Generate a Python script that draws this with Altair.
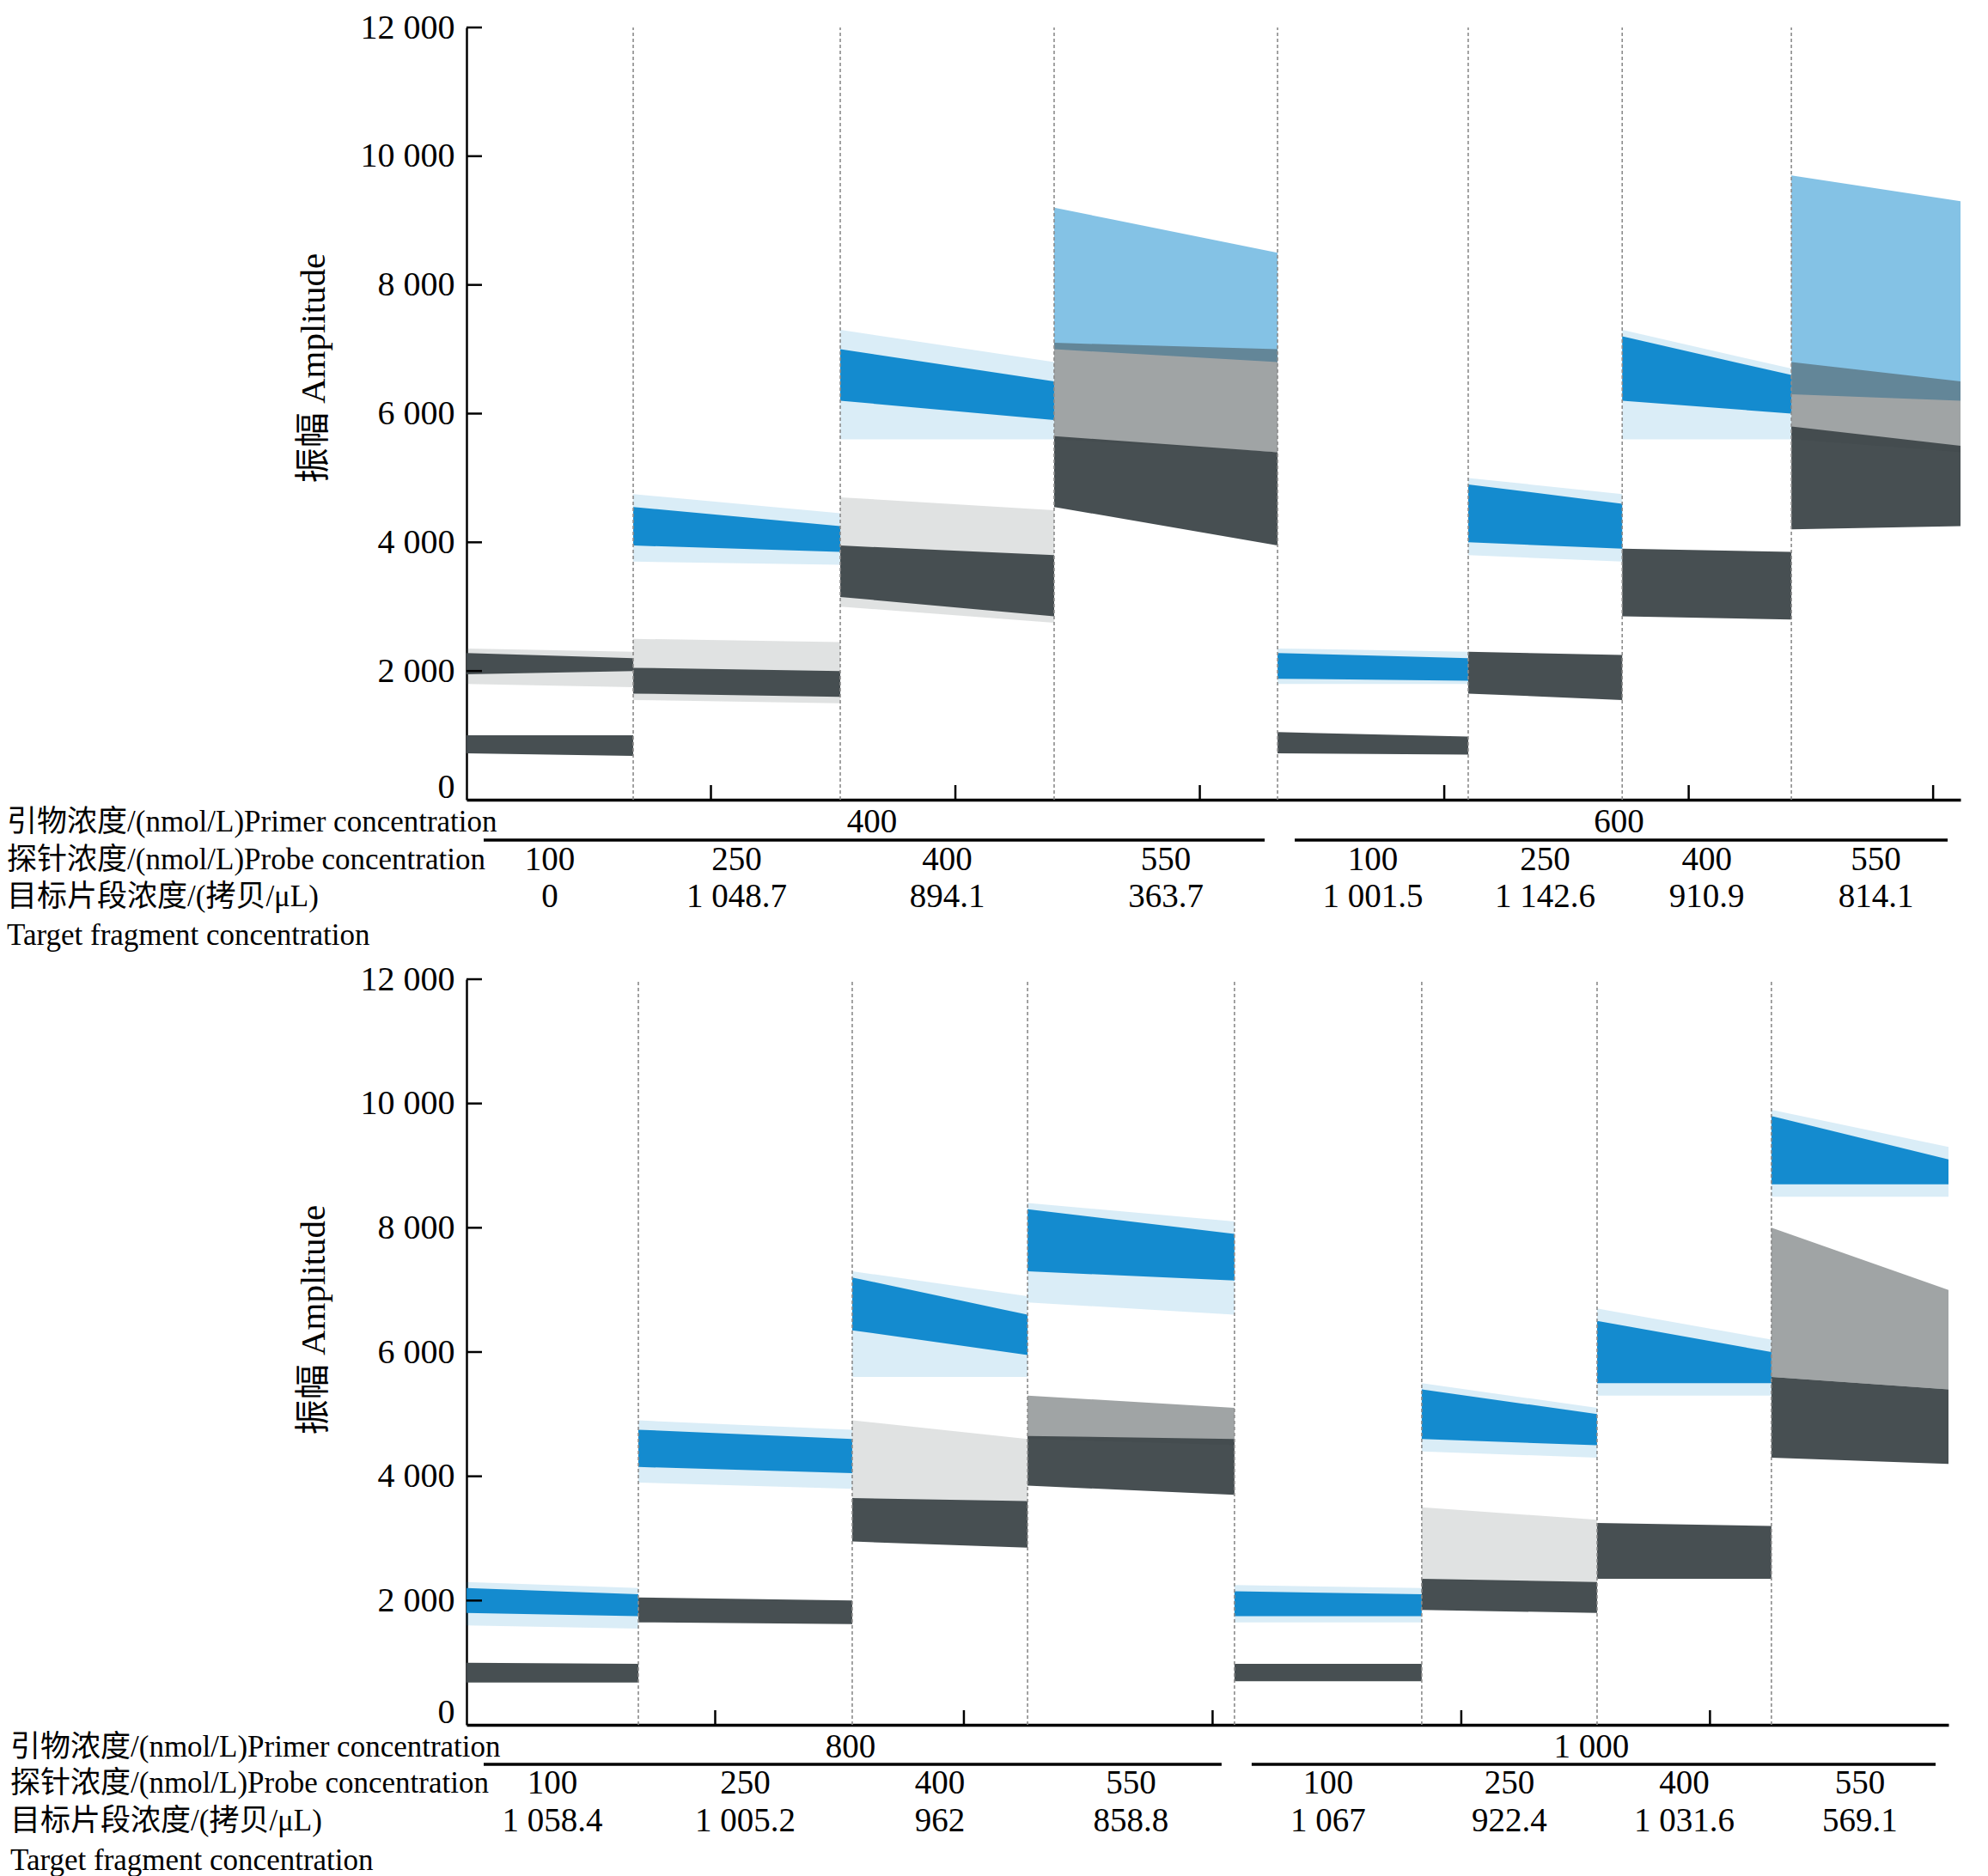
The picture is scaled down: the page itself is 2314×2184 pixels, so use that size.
import altair as alt
import pandas as pd

# ---------------- data ----------------
AMP_TICKS = [0, 2000, 4000, 6000, 8000, 10000, 12000]
AXIS_TICKS = [2000, 4000, 6000, 8000, 10000, 12000]
EVENT_TICKS = [10000, 20000, 30000, 40000, 50000, 60000]

ROW_PRIMER = "引物浓度/(nmol/L)Primer concentration"
ROW_PROBE = "探针浓度/(nmol/L)Probe concentration"
ROW_TARGET = "目标片段浓度/(拷贝/μL)"
ROW_TARGET_EN = "Target fragment concentration"
Y_TITLE = "振幅 Amplitude"

PROBE = ["100", "250", "400", "550", "100", "250", "400", "550"]

TOP_PRIMER = ["400", "600"]
TOP_TARGET = ["0", "1 048.7", "894.1", "363.7", "1 001.5", "1 142.6", "910.9", "814.1"]
TOP_WELL_EDGES = [0, 6820, 15290, 24040, 33180, 40980, 47280, 54200, 61120]

BOTTOM_PRIMER = ["800", "1 000"]
BOTTOM_TARGET = ["1 058.4", "1 005.2", "962", "858.8", "1 067", "922.4", "1 031.6", "569.1"]
BOTTOM_WELL_EDGES = [0, 6910, 15510, 22560, 30880, 38410, 45460, 52470, 59590]

# droplet clusters: (well, kind, low@start, high@start, low@end, high@end)
TOP_CLUSTERS = [
    (1, "grey_halo", 1800, 2350, 1750, 2300),
    (1, "grey", 1950, 2280, 2000, 2200),
    (1, "grey", 720, 1000, 680, 1000),
    (2, "blue_halo", 3700, 4750, 3650, 4450),
    (2, "blue", 3950, 4550, 3850, 4250),
    (2, "grey_halo", 1550, 2500, 1500, 2450),
    (2, "grey", 1650, 2050, 1600, 2000),
    (3, "blue_halo", 5600, 7300, 5600, 6800),
    (3, "blue", 6200, 7000, 5900, 6500),
    (3, "grey_halo", 3000, 4700, 2750, 4500),
    (3, "grey", 3150, 3950, 2850, 3800),
    (4, "blue_sparse", 7000, 9200, 6800, 8500),
    (4, "grey_sparse", 5600, 7100, 5400, 7000),
    (4, "grey", 4550, 5650, 3950, 5400),
    (5, "blue_halo", 1800, 2350, 1800, 2300),
    (5, "blue", 1880, 2280, 1850, 2200),
    (5, "grey", 720, 1050, 700, 980),
    (6, "blue_halo", 3800, 5000, 3700, 4750),
    (6, "blue", 4000, 4900, 3900, 4600),
    (6, "grey", 1650, 2300, 1550, 2250),
    (7, "blue_halo", 5600, 7300, 5600, 6700),
    (7, "blue", 6200, 7200, 6000, 6600),
    (7, "grey", 2850, 3900, 2800, 3850),
    (8, "blue_sparse", 6300, 9700, 6200, 9300),
    (8, "grey_sparse", 5600, 6800, 5400, 6500),
    (8, "grey", 4200, 5800, 4250, 5500),
]

BOTTOM_CLUSTERS = [
    (1, "blue_halo", 1600, 2300, 1550, 2200),
    (1, "blue", 1800, 2200, 1750, 2100),
    (1, "grey", 680, 1000, 680, 980),
    (2, "blue_halo", 3900, 4900, 3800, 4750),
    (2, "blue", 4150, 4750, 4050, 4600),
    (2, "grey", 1650, 2050, 1620, 2000),
    (3, "blue_halo", 5600, 7300, 5600, 6900),
    (3, "blue", 6350, 7200, 5950, 6600),
    (3, "grey_halo", 3600, 4900, 3600, 4600),
    (3, "grey", 2950, 3650, 2850, 3600),
    (4, "blue_halo", 6800, 8400, 6600, 8100),
    (4, "blue", 7300, 8300, 7150, 7900),
    (4, "grey_sparse", 4600, 5300, 4500, 5100),
    (4, "grey", 3850, 4650, 3700, 4600),
    (5, "blue_halo", 1650, 2250, 1650, 2200),
    (5, "blue", 1750, 2150, 1750, 2100),
    (5, "grey", 700, 980, 700, 980),
    (6, "blue_halo", 4400, 5500, 4300, 5100),
    (6, "blue", 4600, 5400, 4500, 5000),
    (6, "grey_halo", 2300, 3500, 2300, 3300),
    (6, "grey", 1850, 2350, 1800, 2300),
    (7, "blue_halo", 5300, 6700, 5300, 6200),
    (7, "blue", 5500, 6500, 5500, 6000),
    (7, "grey", 2350, 3250, 2350, 3200),
    (8, "blue_halo", 8500, 9900, 8500, 9300),
    (8, "blue", 8700, 9800, 8700, 9100),
    (8, "grey_sparse", 5600, 8000, 5400, 7000),
    (8, "grey", 4300, 5600, 4200, 5400),
]

# ---------------- styling ----------------
FONT = "Liberation Serif, Noto Sans CJK SC"
BLUE = "#0a86cc"
GREY = "#41494c"
KIND_STYLE = [
    ("blue_halo", BLUE, 0.15),
    ("grey_halo", GREY, 0.16),
    ("blue_sparse", BLUE, 0.5),
    ("grey_sparse", GREY, 0.5),
    ("blue", BLUE, 0.95),
    ("grey", GREY, 0.97),
]


def panel(edges, clusters, primer, target, width, height, rows):
    xs = alt.Scale(domain=[0, edges[-1]], nice=False, zero=False)
    ys = alt.Scale(domain=[0, 12000], nice=False, zero=True)
    ax_x = alt.Axis(labels=False, ticks=False, grid=False, title=None,
                    domainColor="black", domainWidth=3.5)
    ax_y = alt.Axis(values=AMP_TICKS, grid=False, ticks=False,
                    labelExpr="replace(format(datum.value, ','), ',', ' ')",
                    labelFont=FONT, labelFontSize=40, labelColor="black",
                    labelPadding=14, domainColor="black", domainWidth=2.5,
                    labelBaseline=alt.expr("datum.value == 0 ? 'bottom' : 'middle'"),
                    labelOffset=alt.expr("datum.value == 0 ? 5 : 0"),
                    titleFont=FONT, titleFontSize=41, titleColor="black",
                    titleFontWeight="normal", titleAngle=270,
                    titleX=-178, titleY=396, titleAlign="center",
                    titleBaseline="middle")

    def X(field):
        return alt.X(field, type="quantitative", scale=xs, axis=ax_x, title=None)

    def Y(field):
        return alt.Y(field, type="quantitative", scale=ys, axis=ax_y, title=Y_TITLE)

    # area table
    recs = []
    for i, (w, kind, lo0, hi0, lo1, hi1) in enumerate(clusters):
        recs.append({"id": i, "kind": kind, "x": edges[w - 1], "lo": lo0, "hi": hi0})
        recs.append({"id": i, "kind": kind, "x": edges[w], "lo": lo1, "hi": hi1})
    df = pd.DataFrame(recs)

    layers = []
    for kind, col, op in KIND_STYLE:
        sub = df[df["kind"] == kind]
        if len(sub) == 0:
            continue
        layers.append(
            alt.Chart(sub).mark_area(color=col, opacity=op, interpolate="linear")
            .encode(x=X("x"), y=Y("lo"), y2="hi", detail="id:N")
        )

    # dashed well separators
    sep = pd.DataFrame({"x": edges[1:-1]})
    layers.append(
        alt.Chart(sep).mark_rule(color="#8c8c8c", strokeWidth=1.6, strokeDash=[4, 3])
        .encode(x=X("x"), y=alt.datum(0), y2=alt.datum(12000))
    )

    # inward ticks
    yt = pd.DataFrame({"amp": AXIS_TICKS})
    layers.append(
        alt.Chart(yt).mark_rule(color="black", strokeWidth=2.5, x2Offset=18)
        .encode(x=alt.datum(0), x2=alt.datum(0), y=Y("amp"))
    )
    xt = pd.DataFrame({"ev": [t for t in EVENT_TICKS if t < edges[-1]]})
    layers.append(
        alt.Chart(xt).mark_rule(color="black", strokeWidth=2.5, y2Offset=-17)
        .encode(x=X("ev"), y=alt.datum(0), y2=alt.datum(0))
    )

    # category labels under the axis
    centers = [(edges[i] + edges[i + 1]) / 2 for i in range(8)]
    prim = pd.DataFrame({"cx": [(edges[0] + edges[4]) / 2, (edges[4] + edges[8]) / 2],
                         "label": primer,
                         "x0": [edges[0], edges[4]], "x1": [edges[4], edges[8]]})
    layers.append(
        alt.Chart(prim).mark_text(font=FONT, fontSize=39, color="black", baseline="middle")
        .encode(x=X("cx"), y=alt.value(rows["primer"]), text="label:N")
    )
    layers.append(
        alt.Chart(prim).mark_rule(color="black", strokeWidth=3.5, xOffset=20, x2Offset=-15)
        .encode(x=X("x0"), x2="x1", y=alt.value(rows["line"]))
    )
    probe = pd.DataFrame({"cx": centers, "probe": PROBE, "target": target})
    layers.append(
        alt.Chart(probe).mark_text(font=FONT, fontSize=39, color="black", baseline="middle")
        .encode(x=X("cx"), y=alt.value(rows["probe"]), text="probe:N")
    )
    layers.append(
        alt.Chart(probe).mark_text(font=FONT, fontSize=39, color="black", baseline="middle")
        .encode(x=X("cx"), y=alt.value(rows["target"]), text="target:N")
    )

    # row headers at the left
    head = pd.DataFrame({"t": [0]})
    for key, txt in [("primer", ROW_PRIMER), ("probe", ROW_PROBE),
                     ("target", ROW_TARGET), ("en", ROW_TARGET_EN)]:
        layers.append(
            alt.Chart(head).mark_text(font=FONT, fontSize=35, color="black",
                                      align="left", baseline="middle", text=txt)
            .encode(x=alt.value(rows["left"]), y=alt.value(rows[key]))
        )

    return alt.layer(*layers).properties(width=width, height=height)


top = panel(TOP_WELL_EDGES, TOP_CLUSTERS, TOP_PRIMER, TOP_TARGET, 1739, 899,
            {"primer": 925, "line": 946, "probe": 969, "target": 1012, "en": 1057,
             "left": -535})
bottom = panel(BOTTOM_WELL_EDGES, BOTTOM_CLUSTERS, BOTTOM_PRIMER, BOTTOM_TARGET, 1725, 868,
               {"primer": 894, "line": 914, "probe": 936, "target": 980, "en": 1026,
                "left": -531})

chart = (
    alt.vconcat(top, bottom, spacing=209, bounds="flush")
    .properties(padding={"left": 0, "top": 4, "right": 5, "bottom": 0},
                background="white")
    .configure_view(strokeWidth=0)
)

chart.save("out.html", embed_options={"renderer": "svg", "actions": False})
